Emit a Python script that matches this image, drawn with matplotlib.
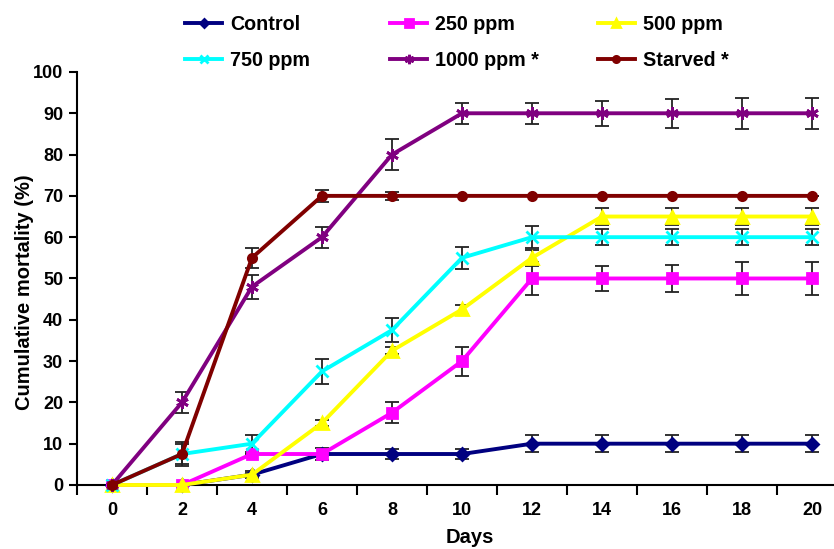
import numpy as np
import matplotlib.pyplot as plt

days = [0, 2, 4, 6, 8, 10, 12, 14, 16, 18, 20]

control = [0, 0, 2.5, 7.5, 7.5, 7.5, 10, 10, 10, 10, 10]
control_err = [0, 0, 0.8, 1.5, 1.2, 1.2, 2, 2, 2, 2, 2]
ppm250 = [0, 0, 7.5, 7.5, 17.5, 30, 50, 50, 50, 50, 50]
ppm250_err = [0, 0, 0, 0, 2.5, 3.5, 4, 3, 3.3, 4, 4]
ppm500 = [0, 0, 2.5, 15, 32.5, 42.5, 55, 65, 65, 65, 65]
ppm500_err = [0, 0, 0.5, 0.7, 0.8, 1, 2, 2, 2, 2, 2]
ppm750 = [0, 7.5, 10, 27.5, 37.5, 55, 60, 60, 60, 60, 60]
ppm750_err = [0, 2.5, 2, 3, 3, 2.7, 2.7, 2, 2, 2, 2]
ppm1000 = [0, 20, 48, 60, 80, 90, 90, 90, 90, 90, 90]
ppm1000_err = [0, 2.5, 2.9, 2.5, 3.8, 2.5, 2.5, 3, 3.5, 3.8, 3.8]
starved = [0, 7.5, 55, 70, 70, 70, 70, 70, 70, 70, 70]
starved_err = [0, 3, 2.5, 1.5, 1, 0, 0, 0, 0, 0, 0]

labels = ['Control', '250 ppm', '500 ppm', '750 ppm', '1000 ppm *', 'Starved *']
series = [control, ppm250, ppm500, ppm750, ppm1000, starved]
errors = [control_err, ppm250_err, ppm500_err, ppm750_err, ppm1000_err, starved_err]
colors = ['#000080', '#FF00FF', '#FFFF00', '#00FFFF', '#800080', '#800000']
markers = ['D', 's', '^', 'x', (6, 2, 0), 'o']
msizes = [6, 7, 8, 8, 9, 6]

plt.rcParams['font.family'] = ['Liberation Sans', 'DejaVu Sans']
plt.rcParams['font.weight'] = 'bold'

fig = plt.figure(figsize=(8.34, 5.49), dpi=100)
ax = fig.add_axes([0.0923, 0.1166, 0.9077, 0.7523])

handles = []
for y, e, c, m, ms, lab in zip(series, errors, colors, markers, msizes, labels):
    ax.errorbar(days, y, yerr=e, fmt='none', ecolor='#222222', elinewidth=1.3,
                capsize=5, capthick=1.3, zorder=2)
    h, = ax.plot(days, y, color=c, lw=2.8, marker=m, ms=ms, mec=c, mew=2,
                 label=lab, zorder=3, clip_on=False)
    handles.append(h)

ax.set_xlim(-1, 20.63)
ax.set_ylim(0, 100)
ax.set_yticks(range(0, 101, 10))
ax.set_xticks(range(0, 21, 2))
ax.set_xticks(range(-1, 21, 2), minor=True)
ax.tick_params(axis='x', which='major', length=0, pad=12, labelsize=13)
ax.tick_params(axis='x', which='minor', length=7, width=1.5, direction='out')
ax.tick_params(axis='y', length=6, width=1.5, labelsize=13, pad=4)
for s in ['top', 'right']:
    ax.spines[s].set_visible(False)
for s in ['left', 'bottom']:
    ax.spines[s].set_linewidth(1.5)

ax.set_ylabel('Cumulative mortality (%)', fontsize=14.5, fontweight='bold')
ax.yaxis.set_label_coords(-0.057, 0.467)
ax.set_xlabel('Days', fontsize=14.5, fontweight='bold')
ax.xaxis.set_label_coords(0.519, -0.103)

# legend: three columns, two rows, filled row by row
col_x = [0.222, 0.468, 0.717]
for i, x0 in enumerate(col_x):
    leg = fig.legend(handles=[handles[i], handles[i + 3]], loc='upper left',
                     bbox_to_anchor=(x0, 0.972), frameon=False, fontsize=14.2,
                     handlelength=1.87, handletextpad=0.4, labelspacing=0.83,
                     borderpad=0, borderaxespad=0, markerscale=0.75)

plt.savefig('out.png', dpi=100)
